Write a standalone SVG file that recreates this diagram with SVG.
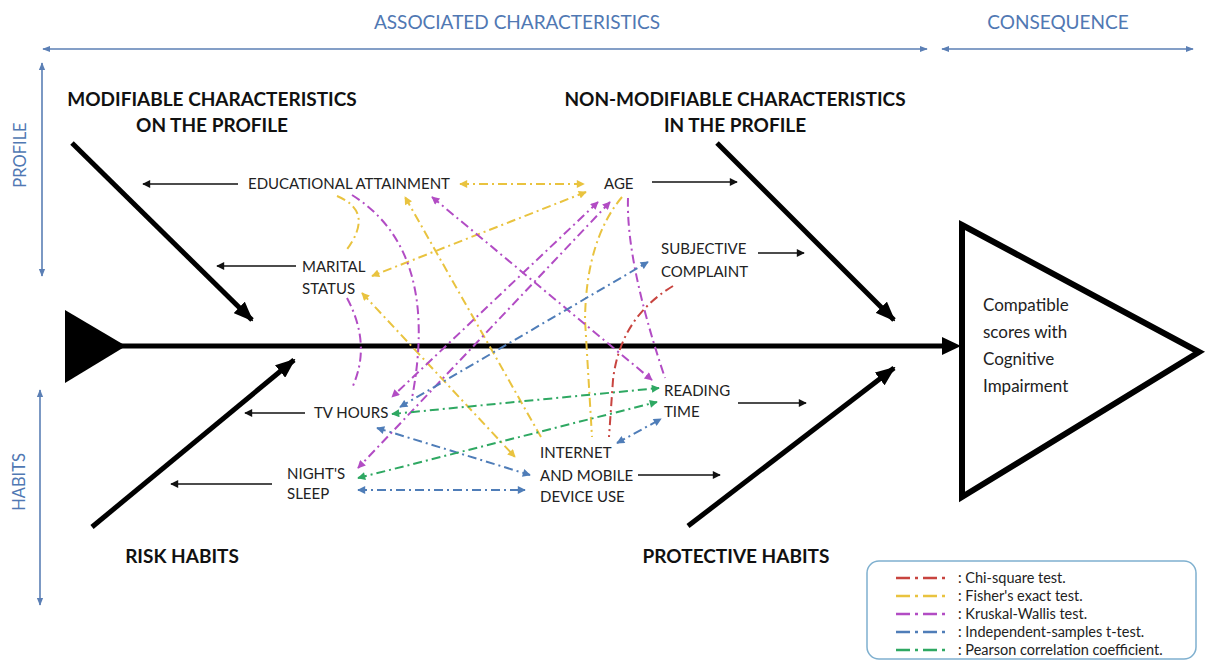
<svg xmlns="http://www.w3.org/2000/svg" width="1206" height="662" viewBox="0 0 1206 662">
<style>
.bg{fill:#fff}
.node{font-family:Lato,"Open Sans",sans-serif;font-size:15px;fill:#222}
.head{font-family:Lato,"Open Sans",sans-serif;font-size:19px;font-weight:bold;fill:#111;text-anchor:middle}
.axis{font-family:Lato,"Open Sans",sans-serif;font-size:19px;fill:#5078b3;text-anchor:middle}
.vax{font-size:16.5px}
.leg{font-family:Lato,"Open Sans",sans-serif;font-size:14.5px;fill:#222}
.ax{stroke:#5b7fb5;stroke-width:1.6;fill:none;marker-start:url(#ab);marker-end:url(#ab)}
.bone{stroke:#000;stroke-width:5;fill:none;marker-end:url(#big)}
.thin{stroke:#111;stroke-width:1.5;fill:none;marker-end:url(#ak)}
.dd{fill:none;stroke-width:2;stroke-dasharray:9 4 2 4}
.ld{fill:none;stroke-width:2.5;stroke-dasharray:14 5 3 5}
.r{stroke:#c8443f}
.y{stroke:#e9c33f}
.p{stroke:#b24cc4}
.b{stroke:#4f7db8}
.g{stroke:#2ea862}
</style>
<defs>
<marker id="ab" viewBox="0 0 10 10" refX="9" refY="5" markerWidth="8" markerHeight="8" markerUnits="userSpaceOnUse" orient="auto-start-reverse"><path d="M0,1 L10,5 L0,9 z" fill="#5b7fb5"/></marker>
<marker id="ak" viewBox="0 0 10 10" refX="9" refY="5" markerWidth="9" markerHeight="8" markerUnits="userSpaceOnUse" orient="auto"><path d="M0,0 L10,5 L0,10 z" fill="#111"/></marker>
<marker id="big" viewBox="0 0 20 16" refX="18" refY="8" markerWidth="20" markerHeight="16" markerUnits="userSpaceOnUse" orient="auto"><path d="M0,0 L20,8 L0,16 z" fill="#000"/></marker>
<marker id="mr" viewBox="0 0 10 10" refX="9" refY="5" markerWidth="10" markerHeight="8" markerUnits="userSpaceOnUse" orient="auto-start-reverse"><path d="M0,0 L10,5 L0,10 z" fill="#c8443f"/></marker>
<marker id="my" viewBox="0 0 10 10" refX="9" refY="5" markerWidth="10" markerHeight="8" markerUnits="userSpaceOnUse" orient="auto-start-reverse"><path d="M0,0 L10,5 L0,10 z" fill="#e9c33f"/></marker>
<marker id="mp" viewBox="0 0 10 10" refX="9" refY="5" markerWidth="10" markerHeight="8" markerUnits="userSpaceOnUse" orient="auto-start-reverse"><path d="M0,0 L10,5 L0,10 z" fill="#b24cc4"/></marker>
<marker id="mb" viewBox="0 0 10 10" refX="9" refY="5" markerWidth="10" markerHeight="8" markerUnits="userSpaceOnUse" orient="auto-start-reverse"><path d="M0,0 L10,5 L0,10 z" fill="#4f7db8"/></marker>
<marker id="mg" viewBox="0 0 10 10" refX="9" refY="5" markerWidth="10" markerHeight="8" markerUnits="userSpaceOnUse" orient="auto-start-reverse"><path d="M0,0 L10,5 L0,10 z" fill="#2ea862"/></marker>
</defs>
<rect class="bg" x="0" y="0" width="1206" height="662"/>

<g id="axes">
<text class="axis" x="517" y="29">ASSOCIATED CHARACTERISTICS</text>
<text class="axis" x="1058" y="29">CONSEQUENCE</text>
<line class="ax" x1="43" y1="49" x2="927" y2="49"/>
<line class="ax" x1="942" y1="49" x2="1193" y2="49"/>
<line class="ax" x1="42" y1="63" x2="42" y2="276"/>
<line class="ax" x1="40" y1="390" x2="40" y2="605"/>
<text class="axis vax" transform="translate(26,155) rotate(-90)">PROFILE</text>
<text class="axis vax" transform="translate(25,482) rotate(-90)">HABITS</text>
</g>

<g id="spine">
<polygon points="65,310 126,346 65,383" fill="#000"/>
<line x1="120" y1="346" x2="946" y2="346" stroke="#000" stroke-width="5"/>
<polygon points="942,337 961,346 942,355" fill="#000"/>
</g>

<g id="consequence">
<polygon points="962,225 1199,352 962,497" fill="#fff" stroke="#000" stroke-width="6" stroke-linejoin="miter"/>
<text class="node" style="font-size:17px" x="983" y="311">Compatible</text>
<text class="node" style="font-size:17px" x="983" y="338">scores with</text>
<text class="node" style="font-size:17px" x="983" y="365">Cognitive</text>
<text class="node" style="font-size:17px" x="983" y="392">Impairment</text>
</g>

<g id="bones">
<line class="bone" x1="72" y1="143" x2="252" y2="320"/>
<line class="bone" x1="92" y1="527" x2="294" y2="360"/>
<line class="bone" x1="717" y1="143" x2="894" y2="320"/>
<line class="bone" x1="688" y1="526" x2="894" y2="368"/>
</g>

<g id="headings">
<text class="head" x="212" y="106">MODIFIABLE CHARACTERISTICS</text>
<text class="head" x="212" y="132">ON THE PROFILE</text>
<text class="head" x="735" y="106">NON-MODIFIABLE CHARACTERISTICS</text>
<text class="head" x="735" y="132">IN THE PROFILE</text>
<text class="head" x="182" y="563">RISK HABITS</text>
<text class="head" x="736" y="563">PROTECTIVE HABITS</text>
</g>

<g id="node-education"><text class="node" x="248" y="189">EDUCATIONAL ATTAINMENT</text></g>
<g id="node-age"><text class="node" x="604" y="189">AGE</text></g>
<g id="node-marital"><text class="node" x="302" y="272">MARITAL</text><text class="node" x="302" y="294">STATUS</text></g>
<g id="node-subjective"><text class="node" x="661" y="254">SUBJECTIVE</text><text class="node" x="661" y="277">COMPLAINT</text></g>
<g id="node-tv"><text class="node" x="314" y="418">TV HOURS</text></g>
<g id="node-reading"><text class="node" x="664" y="396">READING</text><text class="node" x="664" y="417">TIME</text></g>
<g id="node-sleep"><text class="node" x="287" y="479">NIGHT'S</text><text class="node" x="287" y="499">SLEEP</text></g>
<g id="node-internet"><text class="node" x="540" y="458">INTERNET</text><text class="node" x="540" y="481">AND MOBILE</text><text class="node" x="540" y="502">DEVICE USE</text></g>

<g id="connectors">
<line class="thin" x1="238" y1="184" x2="143" y2="184"/>
<line class="thin" x1="296" y1="266" x2="217" y2="266"/>
<line class="thin" x1="652" y1="182" x2="737" y2="182"/>
<line class="thin" x1="758" y1="253" x2="804" y2="253"/>
<line class="thin" x1="305" y1="413" x2="245" y2="413"/>
<line class="thin" x1="272" y1="484" x2="171" y2="484"/>
<line class="thin" x1="738" y1="403" x2="806" y2="403"/>
<line class="thin" x1="638" y1="475" x2="720" y2="475"/>

<!-- yellow: Fisher -->
<line class="dd y" x1="460" y1="184" x2="584" y2="184" marker-start="url(#my)" marker-end="url(#my)"/>
<line class="dd y" x1="586" y1="192" x2="372" y2="276" marker-start="url(#my)" marker-end="url(#my)"/>
<path class="dd y" d="M337 196 Q376 212 345 252"/>
<line class="dd y" x1="541" y1="437" x2="405" y2="197" marker-end="url(#my)"/>
<line class="dd y" x1="362" y1="293" x2="515" y2="457" marker-start="url(#my)" marker-end="url(#my)"/>
<path class="dd y" d="M622 197 Q586 240 585 320 L592 437"/>

<!-- purple: Kruskal-Wallis -->
<path class="dd p" d="M352 195 Q440 250 412 398"/>
<path class="dd p" d="M347 298 Q372 345 352 388"/>
<line class="dd p" x1="598" y1="202" x2="392" y2="397" marker-start="url(#mp)" marker-end="url(#mp)"/>
<line class="dd p" x1="610" y1="202" x2="358" y2="468" marker-start="url(#mp)" marker-end="url(#mp)"/>
<line class="dd p" x1="432" y1="197" x2="652" y2="380" marker-start="url(#mp)" marker-end="url(#mp)"/>
<path class="dd p" d="M628 198 Q626 262 665 378"/>

<!-- blue: t-test -->
<line class="dd b" x1="400" y1="407" x2="648" y2="262" marker-start="url(#mb)" marker-end="url(#mb)"/>
<line class="dd b" x1="377" y1="428" x2="530" y2="475" marker-start="url(#mb)" marker-end="url(#mb)"/>
<line class="dd b" x1="358" y1="490" x2="525" y2="490" marker-start="url(#mb)" marker-end="url(#mb)"/>
<line class="dd b" x1="617" y1="443" x2="661" y2="419" marker-start="url(#mb)" marker-end="url(#mb)"/>

<!-- green: Pearson -->
<line class="dd g" x1="392" y1="414" x2="659" y2="388" marker-start="url(#mg)" marker-end="url(#mg)"/>
<line class="dd g" x1="358" y1="478" x2="657" y2="402" marker-start="url(#mg)" marker-end="url(#mg)"/>

<!-- red: Chi-square -->
<path class="dd r" d="M673 286 Q620 318 613 380 L609 437"/>
</g>

<g id="legend">
<rect x="867" y="561" width="329" height="98" rx="12" fill="#fff" stroke="#7fb0cf" stroke-width="1.5"/>
<line class="ld r" x1="896" y1="578" x2="950" y2="578"/>
<line class="ld y" x1="896" y1="596" x2="950" y2="596"/>
<line class="ld p" x1="896" y1="614" x2="950" y2="614"/>
<line class="ld b" x1="896" y1="632" x2="950" y2="632"/>
<line class="ld g" x1="896" y1="650" x2="950" y2="650"/>
<text class="leg" x="958" y="583">: Chi-square test.</text>
<text class="leg" x="958" y="601">: Fisher's exact test.</text>
<text class="leg" x="958" y="619">: Kruskal-Wallis test.</text>
<text class="leg" x="958" y="637">: Independent-samples t-test.</text>
<text class="leg" x="958" y="655">: Pearson correlation coefficient.</text>
</g>
</svg>
